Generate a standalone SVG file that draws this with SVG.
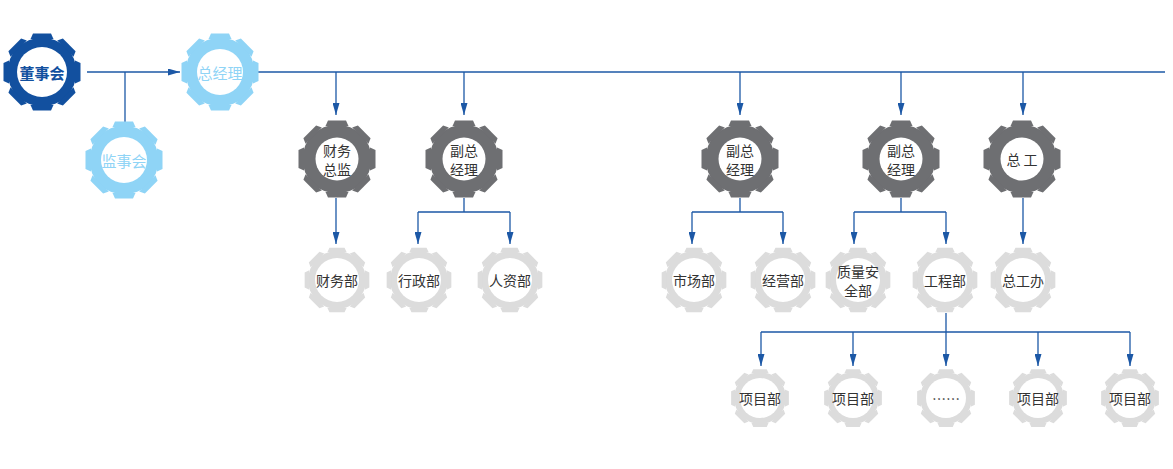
<svg xmlns="http://www.w3.org/2000/svg" xmlns:xlink="http://www.w3.org/1999/xlink" width="1173" height="469" viewBox="0 0 1173 469">
<style>
.t{font-family:"Noto Sans CJK SC","Noto Sans",sans-serif;text-anchor:middle;dominant-baseline:central}
.navy{fill:#12509f}
.sky{fill:#8fd4f6}
.dark{fill:#6e6f72}
.light{fill:#dcdcdc}
.hole{fill:#ffffff}
.lbl{font-size:14px;fill:#333333}
.lbl1{font-size:15px}
.conn path{fill:none;stroke:#1c58a6;stroke-width:1.3}
</style>
<defs>
<path id="gear" d="M-11.5,-33 L-9,-38.5 L9,-38.5 L11.5,-33 Z"/>
<g id="g8">
<circle r="34.5"/>
<use xlink:href="#gear"/>
<use xlink:href="#gear" transform="rotate(45)"/>
<use xlink:href="#gear" transform="rotate(90)"/>
<use xlink:href="#gear" transform="rotate(135)"/>
<use xlink:href="#gear" transform="rotate(180)"/>
<use xlink:href="#gear" transform="rotate(225)"/>
<use xlink:href="#gear" transform="rotate(270)"/>
<use xlink:href="#gear" transform="rotate(315)"/>
</g>
<marker id="ah" markerWidth="12" markerHeight="7" refX="12" refY="3.5" orient="auto" markerUnits="userSpaceOnUse">
<path d="M0,0 L12,3.5 L0,7 Z" fill="#1c58a6"/>
</marker>
</defs>
<rect width="1173" height="469" fill="#ffffff"/>

<g class="conn">
<path d="M87,72 H180" marker-end="url(#ah)"/>
<path d="M125,72 V122"/>
<path d="M258,72 H1165"/>
<path d="M336,72 V115" marker-end="url(#ah)"/>
<path d="M464,72 V115" marker-end="url(#ah)"/>
<path d="M740,72 V115" marker-end="url(#ah)"/>
<path d="M901,72 V115" marker-end="url(#ah)"/>
<path d="M1023,72 V115" marker-end="url(#ah)"/>
<path d="M336,198 V244" marker-end="url(#ah)"/>
<path d="M464,198 V212 M418,212 H510"/>
<path d="M418,212 V244" marker-end="url(#ah)"/>
<path d="M510,212 V244" marker-end="url(#ah)"/>
<path d="M740,198 V212 M692,212 H783"/>
<path d="M692,212 V244" marker-end="url(#ah)"/>
<path d="M783,212 V244" marker-end="url(#ah)"/>
<path d="M901,198 V212 M854,212 H946"/>
<path d="M854,212 V244" marker-end="url(#ah)"/>
<path d="M946,212 V244" marker-end="url(#ah)"/>
<path d="M1023,198 V244" marker-end="url(#ah)"/>
<path d="M946,313 V332 M761,332 H1130"/>
<path d="M761,332 V366" marker-end="url(#ah)"/>
<path d="M853,332 V366" marker-end="url(#ah)"/>
<path d="M946,332 V366" marker-end="url(#ah)"/>
<path d="M1038,332 V366" marker-end="url(#ah)"/>
<path d="M1130,332 V366" marker-end="url(#ah)"/>
</g>

<g id="n-dongshihui" transform="translate(42,72)">
<use xlink:href="#g8" class="navy"/><circle r="25" class="hole"/>
<text class="t lbl1" fill="#12509f" font-weight="bold">董事会</text>
</g>
<g id="n-zongjingli" transform="translate(220,72)">
<use xlink:href="#g8" class="sky"/><circle r="23" class="hole"/>
<text class="t lbl1" fill="#8fd4f6">总经理</text>
</g>
<g id="n-jianshihui" transform="translate(124,160)">
<use xlink:href="#g8" class="sky"/><circle r="23" class="hole"/>
<text class="t lbl1" fill="#8fd4f6">监事会</text>
</g>

<g id="n-caiwuzongjian" transform="translate(337,159)">
<use xlink:href="#g8" class="dark"/><circle r="21.5" class="hole"/>
<text class="t lbl" y="-9">财务</text><text class="t lbl" y="10">总监</text>
</g>
<g id="n-fuzong1" transform="translate(464,159)">
<use xlink:href="#g8" class="dark"/><circle r="21.5" class="hole"/>
<text class="t lbl" y="-9">副总</text><text class="t lbl" y="10">经理</text>
</g>
<g id="n-fuzong2" transform="translate(740,159)">
<use xlink:href="#g8" class="dark"/><circle r="21.5" class="hole"/>
<text class="t lbl" y="-9">副总</text><text class="t lbl" y="10">经理</text>
</g>
<g id="n-fuzong3" transform="translate(901,159)">
<use xlink:href="#g8" class="dark"/><circle r="21.5" class="hole"/>
<text class="t lbl" y="-9">副总</text><text class="t lbl" y="10">经理</text>
</g>
<g id="n-zonggong" transform="translate(1022,159)">
<use xlink:href="#g8" class="dark"/><circle r="21.5" class="hole"/>
<text class="t lbl">总 工</text>
</g>

<g id="n-caiwubu" transform="translate(337,280)">
<use xlink:href="#g8" class="light" transform="scale(0.84)"/><circle r="22" class="hole"/>
<text class="t lbl">财务部</text>
</g>
<g id="n-xingzhengbu" transform="translate(419,280)">
<use xlink:href="#g8" class="light" transform="scale(0.84)"/><circle r="22" class="hole"/>
<text class="t lbl">行政部</text>
</g>
<g id="n-renzibu" transform="translate(510,280)">
<use xlink:href="#g8" class="light" transform="scale(0.84)"/><circle r="22" class="hole"/>
<text class="t lbl">人资部</text>
</g>
<g id="n-shichangbu" transform="translate(694,280)">
<use xlink:href="#g8" class="light" transform="scale(0.84)"/><circle r="22" class="hole"/>
<text class="t lbl">市场部</text>
</g>
<g id="n-jingyingbu" transform="translate(783,280)">
<use xlink:href="#g8" class="light" transform="scale(0.84)"/><circle r="22" class="hole"/>
<text class="t lbl">经营部</text>
</g>
<g id="n-zhiliang" transform="translate(858,280)">
<use xlink:href="#g8" class="light" transform="scale(0.84)"/><circle r="22" class="hole"/>
<text class="t lbl" y="-9">质量安</text><text class="t lbl" y="10">全部</text>
</g>
<g id="n-gongchengbu" transform="translate(945,280)">
<use xlink:href="#g8" class="light" transform="scale(0.84)"/><circle r="22" class="hole"/>
<text class="t lbl">工程部</text>
</g>
<g id="n-zonggongban" transform="translate(1023,280)">
<use xlink:href="#g8" class="light" transform="scale(0.84)"/><circle r="22" class="hole"/>
<text class="t lbl">总工办</text>
</g>

<g id="n-xm1" transform="translate(760,398)">
<use xlink:href="#g8" class="light" transform="scale(0.75)"/><circle r="20" class="hole"/>
<text class="t lbl">项目部</text>
</g>
<g id="n-xm2" transform="translate(853,398)">
<use xlink:href="#g8" class="light" transform="scale(0.75)"/><circle r="20" class="hole"/>
<text class="t lbl">项目部</text>
</g>
<g id="n-xm3" transform="translate(946,398)">
<use xlink:href="#g8" class="light" transform="scale(0.75)"/><circle r="20" class="hole"/>
<text class="t lbl" font-size="11px">……</text>
</g>
<g id="n-xm4" transform="translate(1038,398)">
<use xlink:href="#g8" class="light" transform="scale(0.75)"/><circle r="20" class="hole"/>
<text class="t lbl">项目部</text>
</g>
<g id="n-xm5" transform="translate(1130,398)">
<use xlink:href="#g8" class="light" transform="scale(0.75)"/><circle r="20" class="hole"/>
<text class="t lbl">项目部</text>
</g>
</svg>
